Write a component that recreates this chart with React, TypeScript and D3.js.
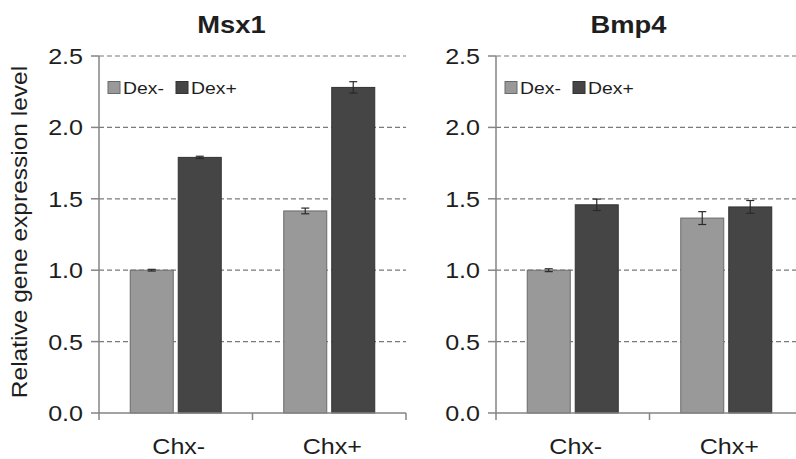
import * as d3 from 'd3'

const categories = ['Chx-', 'Chx+']
const series = ['Dex-', 'Dex+']
const yTicks = [0, 0.5, 1.0, 1.5, 2.0, 2.5]

const msx1Values = { 'Dex-': [1.0, 1.415], 'Dex+': [1.79, 2.28] }
const msx1Errors = { 'Dex-': [0.006, 0.02], 'Dex+': [0.008, 0.04] }
const bmp4Values = { 'Dex-': [1.0, 1.365], 'Dex+': [1.458, 1.443] }
const bmp4Errors = { 'Dex-': [0.01, 0.045], 'Dex+': [0.04, 0.045] }

const W = 796
const H = 459
const FONT = '"Liberation Sans", Arial, sans-serif'
// source font runs wider than Arial at the same cap height
const SX = 1.14

const fills: Record<string, string> = { 'Dex-': '#999999', 'Dex+': '#454545' }
const strokes: Record<string, string> = { 'Dex-': '#6a6a6a', 'Dex+': '#333333' }

const y = d3.scaleLinear().domain([0, 2.5]).range([413, 56])

function T({ x, y, size, anchor = 'start', weight = 'normal', children }: any) {
  return (
    <text transform={`translate(${x},${y}) scale(${SX},1)`} fontSize={size} fontFamily={FONT}
      fontWeight={weight} textAnchor={anchor} fill="#1e1e1e">{children}</text>
  )
}

function Panel({ title, left, values, errors }: {
  title: string; left: number
  values: Record<string, number[]>; errors: Record<string, number[]>
}) {
  const x = d3.scaleBand<string>().domain(categories).range([left, left + 307]).paddingInner(0)
  const inner = d3.scaleBand<string>().domain(series).range([0, x.bandwidth()])
    .paddingInner(0.104).paddingOuter(0.651)
  const [x0, x1] = x.range()
  const y0 = y(0)

  return (
    <g>
      <T x={(x0 + x1) / 2 - 21} y={33} size={24} anchor="middle" weight="bold">{title}</T>

      {yTicks.filter(t => t > 0).map(t => (
        <line key={t} x1={x0} x2={x1} y1={y(t)} y2={y(t)} stroke="#7a7a7a" strokeWidth={1.2} strokeDasharray="5,3" />
      ))}

      {categories.map((c, ci) => series.map(s => {
        const v = values[s][ci]
        const e = errors[s][ci]
        const bx = x(c)! + inner(s)!
        const bw = inner.bandwidth()
        const cx = bx + bw / 2
        return (
          <g key={c + s}>
            <rect x={bx} y={y(v)} width={bw} height={y0 - y(v)} fill={fills[s]} stroke={strokes[s]} strokeWidth={1} />
            <line x1={cx} x2={cx} y1={y(v + e)} y2={y(v - e)} stroke="#2a2a2a" strokeWidth={1.2} />
            <line x1={cx - 4} x2={cx + 4} y1={y(v + e)} y2={y(v + e)} stroke="#2a2a2a" strokeWidth={1.2} />
            <line x1={cx - 4} x2={cx + 4} y1={y(v - e)} y2={y(v - e)} stroke="#2a2a2a" strokeWidth={1.2} />
          </g>
        )
      }))}

      {/* y axis */}
      <line x1={x0} x2={x0} y1={y(2.5)} y2={y0} stroke="#858585" strokeWidth={1.5} />
      {yTicks.map(t => (
        <g key={t}>
          <line x1={x0 - 8} x2={x0} y1={y(t)} y2={y(t)} stroke="#858585" strokeWidth={1.5} />
          <T x={x0 - 16} y={y(t) + 8} size={22} anchor="end">{t.toFixed(1)}</T>
        </g>
      ))}

      {/* x axis */}
      <line x1={x0} x2={x1} y1={y0} y2={y0} stroke="#858585" strokeWidth={1.5} />
      {[x0, ...categories.map(c => x(c)! + x.bandwidth())].map((bx, i) => (
        <line key={i} x1={bx} x2={bx} y1={y0} y2={y0 + 7} stroke="#858585" strokeWidth={1.5} />
      ))}
      {categories.map(c => (
        <T key={c} x={x(c)! + x.bandwidth() / 2 + 3} y={454} size={22} anchor="middle">{c}</T>
      ))}

      {/* legend */}
      {series.map((s, i) => (
        <g key={s}>
          <rect x={x0 + 9 + i * 68} y={81.5} width={12} height={12} fill={fills[s]} stroke={strokes[s]} strokeWidth={1} />
          <T x={x0 + 24 + i * 68} y={94} size={17}>{s}</T>
        </g>
      ))}
    </g>
  )
}

export default function App() {
  return (
    <svg width={W} height={H} style={{ position: 'absolute', left: 0, top: 0, background: '#fff' }}>
      <rect width={W} height={H} fill="#fff" />
      <text transform={`translate(27,232) rotate(-90) scale(${SX},1)`} fontSize={21.5} fontFamily={FONT}
        textAnchor="middle" fill="#1e1e1e">Relative gene expression level</text>
      <Panel title="Msx1" left={99} values={msx1Values} errors={msx1Errors} />
      <Panel title="Bmp4" left={496} values={bmp4Values} errors={bmp4Errors} />
    </svg>
  )
}
